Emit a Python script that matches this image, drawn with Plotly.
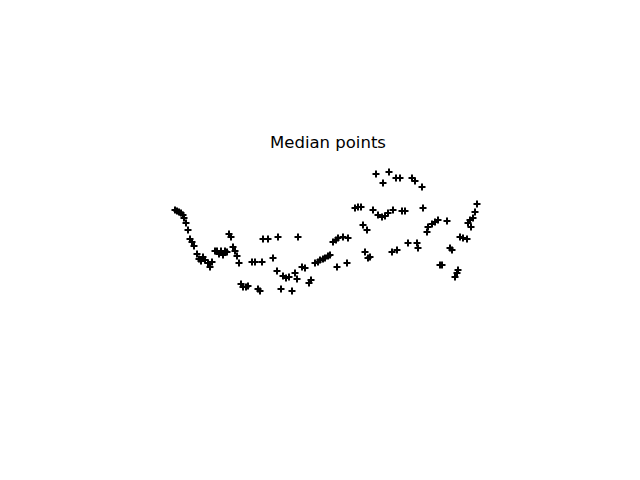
import plotly.graph_objects as go

# Median point positions
x_vals = [175,177,179,181,183,184,186,188,190,192,194,197,199,201,203,205,208,210,212,215,217,219,221,223,225,227,229,231,233,235,237,239,
          252,255,262,263,268,278,298,273,277,283,286,289,295,297,302,305,241,243,246,248,258,260,281,292,309,311,
          315,318,320,323,325,328,330,337,347,333,336,338,343,348,355,358,361,365,368,370,363,367,
          376,389,383,396,400,412,415,422,373,378,382,385,388,393,402,405,423,392,397,408,417,418,
          427,428,432,435,438,447,477,475,473,470,468,471,460,463,467,450,452,440,442,455,457,458]
y_vals = [210,211,212,213,215,218,223,230,239,242,246,254,259,261,257,260,263,267,262,251,251,254,251,255,251,252,234,237,247,251,256,263,
          262,262,262,239,239,237,237,258,271,276,278,277,273,279,267,268,284,287,287,286,289,291,289,291,283,280,
          263,262,260,259,258,256,255,267,263,242,240,238,237,238,208,207,207,252,258,257,225,230,
          174,172,183,178,178,178,181,187,210,215,217,216,213,210,211,211,208,252,250,243,243,248,
          232,227,224,222,220,221,204,212,218,220,223,227,237,238,239,248,250,265,265,277,273,270]

title_text = "Median points"

fig = go.Figure()
fig.add_trace(go.Scatter(
    x=x_vals, y=y_vals, mode="markers",
    marker=dict(symbol="cross-thin", size=5, color="black",
                line=dict(color="black", width=2)),
    hoverinfo="skip", showlegend=False,
))

fig.update_layout(
    width=640, height=480,
    margin=dict(l=0, r=0, t=0, b=0),
    paper_bgcolor="white", plot_bgcolor="white",
    xaxis=dict(range=[0, 640], visible=False),
    yaxis=dict(range=[480, 0], visible=False),
    title=dict(text=title_text, x=328/640, xanchor="center",
               y=1 - 142/480, yanchor="middle",
               font=dict(family="DejaVu Sans", size=16.5, color="black")),
)

fig.write_html("out.html")
